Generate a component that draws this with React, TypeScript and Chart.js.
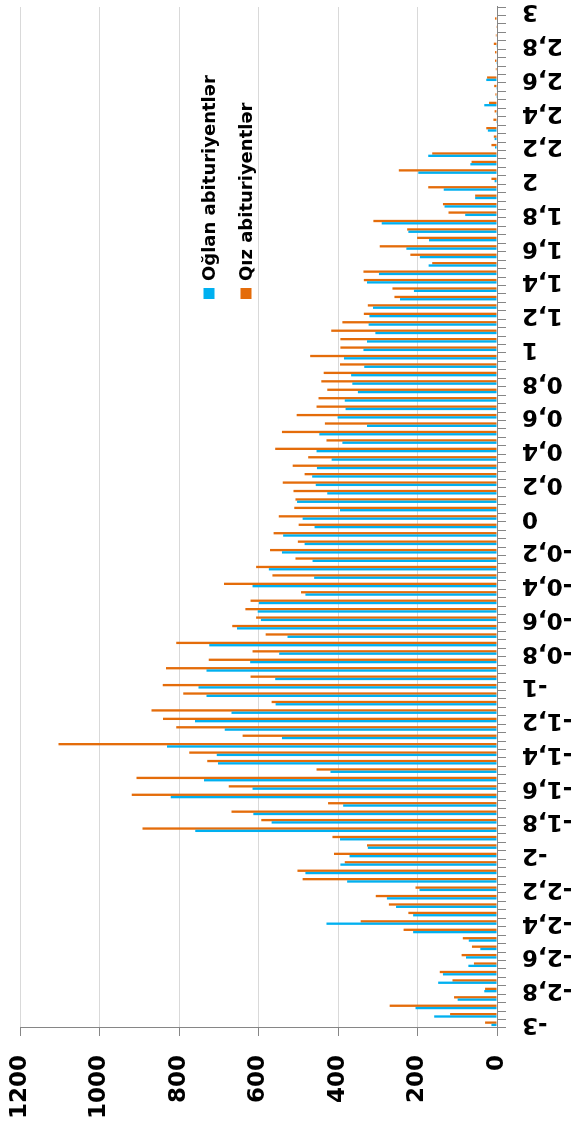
import React, { useEffect, useRef } from 'react';
import { Chart, registerables } from 'chart.js';

Chart.register(...registerables);

// Category labels (score intervals, comma as decimal separator)
const categories: string[] = [
  '-3', '-2,95', '-2,9', '-2,85', '-2,8', '-2,75', '-2,7', '-2,65', '-2,6', '-2,55',
  '-2,5', '-2,45', '-2,4', '-2,35', '-2,3', '-2,25', '-2,2', '-2,15', '-2,1', '-2,05',
  '-2', '-1,95', '-1,9', '-1,85', '-1,8', '-1,75', '-1,7', '-1,65', '-1,6', '-1,55',
  '-1,5', '-1,45', '-1,4', '-1,35', '-1,3', '-1,25', '-1,2', '-1,15', '-1,1', '-1,05',
  '-1', '-0,95', '-0,9', '-0,85', '-0,8', '-0,75', '-0,7', '-0,65', '-0,6', '-0,55',
  '-0,5', '-0,45', '-0,4', '-0,35', '-0,3', '-0,25', '-0,2', '-0,15', '-0,1', '-0,05',
  '0', '0,05', '0,1', '0,15', '0,2', '0,25', '0,3', '0,35', '0,4', '0,45',
  '0,5', '0,55', '0,6', '0,65', '0,7', '0,75', '0,8', '0,85', '0,9', '0,95',
  '1', '1,05', '1,1', '1,15', '1,2', '1,25', '1,3', '1,35', '1,4', '1,45',
  '1,5', '1,55', '1,6', '1,65', '1,7', '1,75', '1,8', '1,85', '1,9', '1,95',
  '2', '2,05', '2,1', '2,15', '2,2', '2,25', '2,3', '2,35', '2,4', '2,45',
  '2,5', '2,55', '2,6', '2,65', '2,7', '2,75', '2,8', '2,85', '2,9', '2,95',
  '3',
];

// Oğlan abituriyentlər (boys)
const boysValues: number[] = [
  14, 158, 205, 99, 32, 148, 136, 72, 78, 42, 71, 211, 429, 211, 254, 277, 195, 377, 482, 394,
  371, 325, 395, 759, 567, 613, 387, 821, 615, 737, 419, 702, 705, 830, 541, 685, 760, 668, 557, 731,
  751, 558, 731, 621, 548, 724, 527, 654, 594, 602, 599, 482, 615, 460, 574, 464, 541, 484, 538, 459,
  489, 395, 503, 427, 456, 465, 453, 416, 454, 389, 447, 327, 401, 381, 383, 350, 364, 367, 334, 385,
  336, 327, 306, 323, 321, 312, 244, 209, 327, 297, 172, 194, 228, 171, 223, 290, 80, 132, 55, 134,
  6, 198, 67, 173, 5, 6, 23, 2, 2, 32, 2, 2, 27, 0, 2, 0, 2, 0, 0, 0,
  0,
];

// Qız abituriyentlər (girls)
const girlsValues: number[] = [
  30, 118, 270, 108, 30, 112, 144, 58, 89, 63, 86, 235, 343, 223, 272, 305, 205, 489, 502, 383,
  410, 327, 414, 892, 593, 668, 425, 919, 675, 907, 454, 729, 774, 1103, 640, 807, 840, 869, 567, 789,
  841, 620, 833, 725, 615, 807, 582, 666, 606, 633, 620, 493, 687, 565, 606, 507, 571, 501, 562, 499,
  549, 510, 507, 512, 539, 484, 514, 475, 558, 429, 541, 433, 504, 454, 449, 427, 442, 436, 395, 470,
  394, 394, 417, 389, 335, 325, 258, 263, 335, 336, 163, 218, 295, 201, 226, 311, 122, 136, 55, 173,
  14, 247, 64, 163, 14, 8, 27, 9, 6, 20, 4, 7, 25, 3, 5, 5, 8, 3, 2, 5,
  0,
];

const seriesNames: string[] = ['Oğlan abituriyentlər', 'Qız abituriyentlər'];
const seriesColors: string[] = ['#00B0F0', '#E46C0A'];
const valueAxisMin = 0;
const valueAxisMax = 1200;
const valueAxisStep = 200;
const labelEvery = 4;

const FONT = 'DejaVu Sans';

const sideLegend = {
  id: 'sideLegend',
  afterDraw(chart: any) {
    const ctx = chart.ctx as CanvasRenderingContext2D;
    ctx.save();
    ctx.font = `bold 18px "${FONT}"`;
    ctx.textBaseline = 'middle';
    ctx.textAlign = 'left';
    const rows = [209, 246];
    chart.data.datasets.forEach((ds: any, i: number) => {
      const cy = rows[i];
      ctx.fillStyle = ds.backgroundColor;
      ctx.fillRect(826, cy - 5.5, 11, 11);
      ctx.fillStyle = '#000';
      ctx.fillText(ds.label, 844, cy + 1);
    });
    ctx.restore();
  },
};

export default function App() {
  const ref = useRef<HTMLCanvasElement>(null);

  useEffect(() => {
    document.documentElement.style.overflow = 'hidden';
    document.body.style.overflow = 'hidden';
    const tickFont = { family: FONT, size: 23, weight: 'bold' as const };
    const chart = new Chart(ref.current!, {
      type: 'bar',
      data: {
        labels: categories,
        datasets: [
          {
            label: seriesNames[0],
            data: boysValues,
            backgroundColor: seriesColors[0],
            borderWidth: 0,
            categoryPercentage: 0.55,
            barPercentage: 1.0,
          },
          {
            label: seriesNames[1],
            data: girlsValues,
            backgroundColor: seriesColors[1],
            borderWidth: 0,
            categoryPercentage: 0.55,
            barPercentage: 1.0,
          },
        ],
      },
      options: {
        animation: false,
        responsive: false,
        devicePixelRatio: 1,
        layout: { padding: { top: 20, right: 7, left: 0, bottom: 0 } },
        plugins: {
          legend: { display: false },
          tooltip: { enabled: false },
        },
        scales: {
          x: {
            grid: {
              drawOnChartArea: false,
              drawTicks: true,
              tickLength: 9,
              color: '#868686',
              tickColor: '#868686',
              offset: true,
            },
            border: { color: '#868686', width: 1 },
            ticks: {
              autoSkip: false,
              maxRotation: 90,
              minRotation: 90,
              padding: 16,
              color: '#000',
              font: tickFont,
              callback: (_v: any, i: number) => (i % labelEvery === 0 ? categories[i] : ''),
            },
            afterFit: (s: any) => {
              s.height = 78;
              s.paddingLeft = 0;
              s.paddingRight = 0;
            },
          },
          y: {
            min: valueAxisMin,
            max: valueAxisMax,
            ticks: {
              stepSize: valueAxisStep,
              padding: 19,
              color: '#000',
              font: tickFont,
              callback: (v: any) => String(v),
            },
            grid: { color: '#D9D9D9', tickColor: '#868686', tickLength: 8 },
            border: { color: '#868686' },
            afterFit: (s: any) => {
              s.width = 97;
              s.paddingTop = 0;
              s.paddingBottom = 0;
            },
          },
        },
      },
      plugins: [sideLegend],
    });
    return () => chart.destroy();
  }, []);

  return (
    <div
      style={{
        position: 'fixed',
        left: 0,
        top: 0,
        width: 1125,
        height: 575,
        transformOrigin: '0 0',
        transform: 'translateY(1125px) rotate(-90deg)',
        background: '#fff',
      }}
    >
      <canvas ref={ref} width={1125} height={575} style={{ display: 'block' }} />
    </div>
  );
}
